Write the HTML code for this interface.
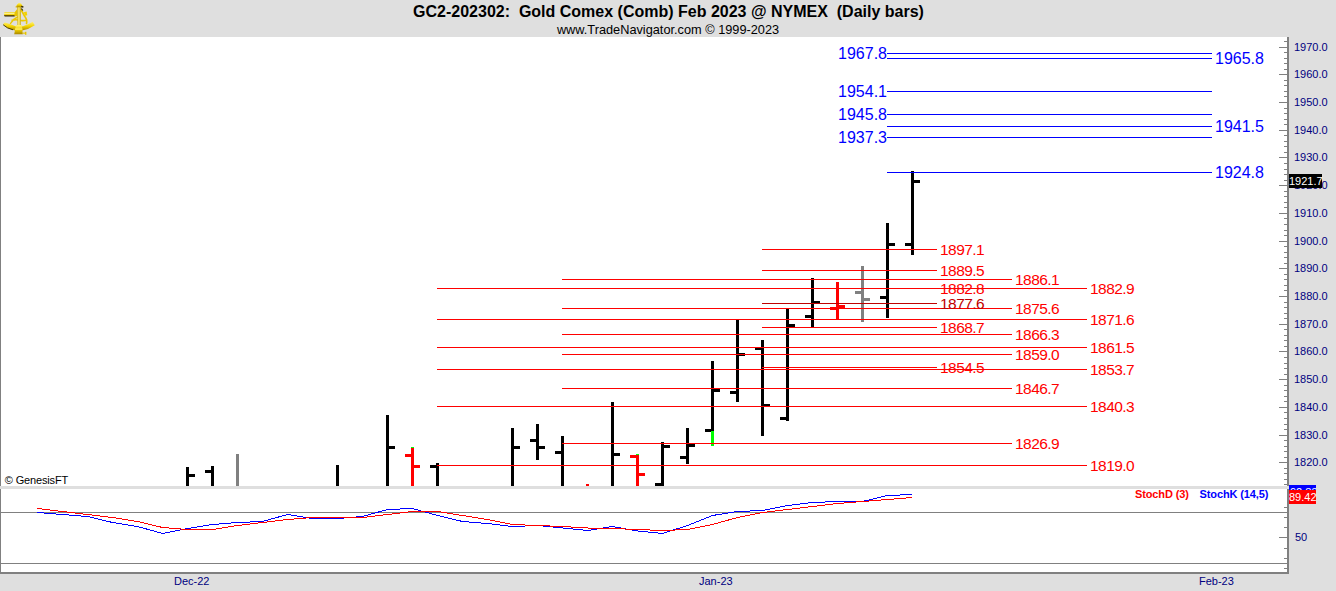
<!DOCTYPE html>
<html><head><meta charset="utf-8"><title>GC2-202302 Gold Comex</title>
<style>
html,body{margin:0;padding:0;background:#dfdfdf;overflow:hidden}
svg{display:block}
text{font-family:'Liberation Sans', Arial, sans-serif}
.lv16{font-size:16px}
.lv15{font-size:15.5px;letter-spacing:-0.55px}
.ax{font-size:11px;fill:#000080}
.st{font-size:11px;font-weight:bold;letter-spacing:-0.12px}
.cp{font-size:11px;fill:#000;letter-spacing:-0.15px}
.dt{font-size:11px;fill:#000080}
.ti{font-size:16px;font-weight:bold;fill:#000}
.sub{font-size:12.75px;fill:#000}
</style></head>
<body>
<svg width="1336" height="591" viewBox="0 0 1336 591" shape-rendering="crispEdges">
<rect x="0" y="0" width="1336" height="591" fill="#dfdfdf"/>
<rect x="1" y="37" width="1286" height="449" fill="#fff"/>
<rect x="1" y="489" width="1286" height="83" fill="#fff"/>
<rect x="0" y="37" width="1" height="449" fill="#808080"/>
<rect x="0" y="489" width="1" height="84" fill="#808080"/>
<rect x="0" y="572" width="1289" height="2" fill="#808080"/>
<rect x="1" y="512" width="1286" height="1" fill="#808080"/>
<rect x="1" y="563" width="1286" height="1" fill="#808080"/>
<rect x="186" y="467" width="3" height="19" fill="#000"/>
<rect x="189" y="474" width="6" height="3" fill="#000"/>
<rect x="211" y="466" width="3" height="20" fill="#000"/>
<rect x="205" y="470" width="6" height="3" fill="#000"/>
<rect x="236" y="454" width="3" height="32" fill="#808080"/>
<rect x="336" y="465" width="3" height="21" fill="#000"/>
<rect x="386" y="415" width="3" height="71" fill="#000"/>
<rect x="389" y="446" width="6" height="3" fill="#000"/>
<rect x="411" y="447" width="3" height="39" fill="#ff0000"/>
<rect x="405" y="454" width="6" height="3" fill="#ff0000"/>
<rect x="414" y="465" width="6" height="3" fill="#ff0000"/>
<rect x="436" y="463" width="3" height="23" fill="#000"/>
<rect x="430" y="465" width="6" height="3" fill="#000"/>
<rect x="511" y="428" width="3" height="58" fill="#000"/>
<rect x="514" y="446" width="6" height="3" fill="#000"/>
<rect x="536" y="424" width="3" height="36" fill="#000"/>
<rect x="530" y="439" width="6" height="3" fill="#000"/>
<rect x="539" y="446" width="6" height="3" fill="#000"/>
<rect x="561" y="436" width="3" height="50" fill="#000"/>
<rect x="555" y="451" width="6" height="3" fill="#000"/>
<rect x="586" y="484" width="3" height="2" fill="#ff0000"/>
<rect x="611" y="402" width="3" height="84" fill="#000"/>
<rect x="614" y="453" width="6" height="3" fill="#000"/>
<rect x="636" y="454" width="3" height="32" fill="#ff0000"/>
<rect x="630" y="455" width="6" height="3" fill="#ff0000"/>
<rect x="639" y="473" width="6" height="3" fill="#ff0000"/>
<rect x="661" y="442" width="3" height="44" fill="#000"/>
<rect x="655" y="483" width="6" height="3" fill="#000"/>
<rect x="664" y="445" width="6" height="3" fill="#000"/>
<rect x="686" y="428" width="3" height="36" fill="#000"/>
<rect x="680" y="456" width="6" height="3" fill="#000"/>
<rect x="689" y="444" width="6" height="3" fill="#000"/>
<rect x="711" y="361" width="3" height="85" fill="#000"/>
<rect x="705" y="429" width="6" height="3" fill="#000"/>
<rect x="714" y="389" width="6" height="3" fill="#000"/>
<rect x="736" y="320" width="3" height="82" fill="#000"/>
<rect x="730" y="391" width="6" height="3" fill="#000"/>
<rect x="739" y="353" width="6" height="3" fill="#000"/>
<rect x="761" y="340" width="3" height="96" fill="#000"/>
<rect x="755" y="347" width="6" height="3" fill="#000"/>
<rect x="764" y="404" width="6" height="3" fill="#000"/>
<rect x="786" y="309" width="3" height="112" fill="#000"/>
<rect x="780" y="417" width="6" height="3" fill="#000"/>
<rect x="789" y="324" width="6" height="3" fill="#000"/>
<rect x="811" y="278" width="3" height="49" fill="#000"/>
<rect x="805" y="315" width="6" height="3" fill="#000"/>
<rect x="814" y="301" width="6" height="3" fill="#000"/>
<rect x="836" y="282" width="3" height="37" fill="#ff0000"/>
<rect x="830" y="307" width="6" height="3" fill="#ff0000"/>
<rect x="839" y="305" width="6" height="3" fill="#ff0000"/>
<rect x="861" y="266" width="3" height="56" fill="#808080"/>
<rect x="855" y="291" width="6" height="3" fill="#808080"/>
<rect x="864" y="298" width="6" height="3" fill="#808080"/>
<rect x="886" y="223" width="3" height="95" fill="#000"/>
<rect x="880" y="296" width="6" height="3" fill="#000"/>
<rect x="889" y="243" width="6" height="3" fill="#000"/>
<rect x="911" y="171" width="3" height="84" fill="#000"/>
<rect x="905" y="243" width="6" height="3" fill="#000"/>
<rect x="914" y="180" width="6" height="3" fill="#000"/>
<rect x="411" y="447" width="3" height="1" fill="#00ff00"/>
<rect x="636" y="454" width="3" height="1" fill="#00ff00"/>
<rect x="711" y="431" width="3" height="15" fill="#00ff00"/>
<rect x="887" y="53" width="325" height="1" fill="#0000ff"/>
<rect x="887" y="58" width="325" height="1" fill="#0000ff"/>
<rect x="887" y="91" width="325" height="1" fill="#0000ff"/>
<rect x="887" y="114" width="325" height="1" fill="#0000ff"/>
<rect x="887" y="126" width="325" height="1" fill="#0000ff"/>
<rect x="887" y="137" width="325" height="1" fill="#0000ff"/>
<rect x="887" y="172" width="325" height="1" fill="#0000ff"/>
<rect x="762" y="249" width="175" height="1" fill="#ff0000"/>
<rect x="762" y="270" width="175" height="1" fill="#ff0000"/>
<rect x="762" y="288" width="175" height="1" fill="#ff0000"/>
<rect x="762" y="303" width="175" height="1" fill="#c00000"/>
<rect x="762" y="327" width="175" height="1" fill="#ff0000"/>
<rect x="762" y="367" width="175" height="1" fill="#ff0000"/>
<rect x="562" y="279" width="450" height="1" fill="#ff0000"/>
<rect x="562" y="308" width="450" height="1" fill="#ff0000"/>
<rect x="562" y="334" width="450" height="1" fill="#ff0000"/>
<rect x="562" y="354" width="450" height="1" fill="#ff0000"/>
<rect x="562" y="388" width="450" height="1" fill="#ff0000"/>
<rect x="562" y="443" width="450" height="1" fill="#ff0000"/>
<rect x="437" y="288" width="650" height="1" fill="#ff0000"/>
<rect x="437" y="319" width="650" height="1" fill="#ff0000"/>
<rect x="437" y="347" width="650" height="1" fill="#ff0000"/>
<rect x="437" y="369" width="650" height="1" fill="#ff0000"/>
<rect x="437" y="406" width="650" height="1" fill="#ff0000"/>
<rect x="437" y="465" width="650" height="1" fill="#ff0000"/>
<text x="887" y="59" font-size="16" fill="#0000ff" text-anchor="end" class="lv16">1967.8</text>
<text x="1215" y="64" font-size="16" fill="#0000ff" class="lv16">1965.8</text>
<text x="887" y="97" font-size="16" fill="#0000ff" text-anchor="end" class="lv16">1954.1</text>
<text x="887" y="120" font-size="16" fill="#0000ff" text-anchor="end" class="lv16">1945.8</text>
<text x="1215" y="132" font-size="16" fill="#0000ff" class="lv16">1941.5</text>
<text x="887" y="143" font-size="16" fill="#0000ff" text-anchor="end" class="lv16">1937.3</text>
<text x="1215" y="178" font-size="16" fill="#0000ff" class="lv16">1924.8</text>
<text x="940" y="254.5" font-size="15" fill="#ff0000" class="lv15">1897.1</text>
<text x="940" y="275.5" font-size="15" fill="#ff0000" class="lv15">1889.5</text>
<text x="940" y="293.5" font-size="15" fill="#ff0000" class="lv15">1882.8</text>
<text x="940" y="308.5" font-size="15" fill="#c00000" class="lv15">1877.6</text>
<text x="940" y="332.5" font-size="15" fill="#ff0000" class="lv15">1868.7</text>
<text x="940" y="372.5" font-size="15" fill="#ff0000" class="lv15">1854.5</text>
<text x="1015" y="284.5" font-size="15" fill="#ff0000" class="lv15">1886.1</text>
<text x="1015" y="313.5" font-size="15" fill="#ff0000" class="lv15">1875.6</text>
<text x="1015" y="339.5" font-size="15" fill="#ff0000" class="lv15">1866.3</text>
<text x="1015" y="359.5" font-size="15" fill="#ff0000" class="lv15">1859.0</text>
<text x="1015" y="393.5" font-size="15" fill="#ff0000" class="lv15">1846.7</text>
<text x="1015" y="448.5" font-size="15" fill="#ff0000" class="lv15">1826.9</text>
<text x="1090" y="293.5" font-size="15" fill="#ff0000" class="lv15">1882.9</text>
<text x="1090" y="324.5" font-size="15" fill="#ff0000" class="lv15">1871.6</text>
<text x="1090" y="352.5" font-size="15" fill="#ff0000" class="lv15">1861.5</text>
<text x="1090" y="374.5" font-size="15" fill="#ff0000" class="lv15">1853.7</text>
<text x="1090" y="411.5" font-size="15" fill="#ff0000" class="lv15">1840.3</text>
<text x="1090" y="470.5" font-size="15" fill="#ff0000" class="lv15">1819.0</text>
<rect x="1287" y="37" width="2" height="537" fill="#808080"/>
<rect x="1284" y="41" width="3" height="1" fill="#808080"/>
<rect x="1279" y="47" width="8" height="1" fill="#808080"/>
<rect x="1284" y="52" width="3" height="1" fill="#808080"/>
<rect x="1284" y="58" width="3" height="1" fill="#808080"/>
<rect x="1284" y="63" width="3" height="1" fill="#808080"/>
<rect x="1284" y="69" width="3" height="1" fill="#808080"/>
<rect x="1279" y="74" width="8" height="1" fill="#808080"/>
<rect x="1284" y="80" width="3" height="1" fill="#808080"/>
<rect x="1284" y="85" width="3" height="1" fill="#808080"/>
<rect x="1284" y="91" width="3" height="1" fill="#808080"/>
<rect x="1284" y="96" width="3" height="1" fill="#808080"/>
<rect x="1279" y="102" width="8" height="1" fill="#808080"/>
<rect x="1284" y="108" width="3" height="1" fill="#808080"/>
<rect x="1284" y="113" width="3" height="1" fill="#808080"/>
<rect x="1284" y="119" width="3" height="1" fill="#808080"/>
<rect x="1284" y="124" width="3" height="1" fill="#808080"/>
<rect x="1279" y="130" width="8" height="1" fill="#808080"/>
<rect x="1284" y="135" width="3" height="1" fill="#808080"/>
<rect x="1284" y="141" width="3" height="1" fill="#808080"/>
<rect x="1284" y="146" width="3" height="1" fill="#808080"/>
<rect x="1284" y="152" width="3" height="1" fill="#808080"/>
<rect x="1279" y="157" width="8" height="1" fill="#808080"/>
<rect x="1284" y="163" width="3" height="1" fill="#808080"/>
<rect x="1284" y="169" width="3" height="1" fill="#808080"/>
<rect x="1284" y="174" width="3" height="1" fill="#808080"/>
<rect x="1284" y="180" width="3" height="1" fill="#808080"/>
<rect x="1279" y="185" width="8" height="1" fill="#808080"/>
<rect x="1284" y="191" width="3" height="1" fill="#808080"/>
<rect x="1284" y="196" width="3" height="1" fill="#808080"/>
<rect x="1284" y="202" width="3" height="1" fill="#808080"/>
<rect x="1284" y="207" width="3" height="1" fill="#808080"/>
<rect x="1279" y="213" width="8" height="1" fill="#808080"/>
<rect x="1284" y="218" width="3" height="1" fill="#808080"/>
<rect x="1284" y="224" width="3" height="1" fill="#808080"/>
<rect x="1284" y="230" width="3" height="1" fill="#808080"/>
<rect x="1284" y="235" width="3" height="1" fill="#808080"/>
<rect x="1279" y="241" width="8" height="1" fill="#808080"/>
<rect x="1284" y="246" width="3" height="1" fill="#808080"/>
<rect x="1284" y="252" width="3" height="1" fill="#808080"/>
<rect x="1284" y="257" width="3" height="1" fill="#808080"/>
<rect x="1284" y="263" width="3" height="1" fill="#808080"/>
<rect x="1279" y="268" width="8" height="1" fill="#808080"/>
<rect x="1284" y="274" width="3" height="1" fill="#808080"/>
<rect x="1284" y="279" width="3" height="1" fill="#808080"/>
<rect x="1284" y="285" width="3" height="1" fill="#808080"/>
<rect x="1284" y="290" width="3" height="1" fill="#808080"/>
<rect x="1279" y="296" width="8" height="1" fill="#808080"/>
<rect x="1284" y="302" width="3" height="1" fill="#808080"/>
<rect x="1284" y="307" width="3" height="1" fill="#808080"/>
<rect x="1284" y="313" width="3" height="1" fill="#808080"/>
<rect x="1284" y="318" width="3" height="1" fill="#808080"/>
<rect x="1279" y="324" width="8" height="1" fill="#808080"/>
<rect x="1284" y="329" width="3" height="1" fill="#808080"/>
<rect x="1284" y="335" width="3" height="1" fill="#808080"/>
<rect x="1284" y="340" width="3" height="1" fill="#808080"/>
<rect x="1284" y="346" width="3" height="1" fill="#808080"/>
<rect x="1279" y="351" width="8" height="1" fill="#808080"/>
<rect x="1284" y="357" width="3" height="1" fill="#808080"/>
<rect x="1284" y="363" width="3" height="1" fill="#808080"/>
<rect x="1284" y="368" width="3" height="1" fill="#808080"/>
<rect x="1284" y="374" width="3" height="1" fill="#808080"/>
<rect x="1279" y="379" width="8" height="1" fill="#808080"/>
<rect x="1284" y="385" width="3" height="1" fill="#808080"/>
<rect x="1284" y="390" width="3" height="1" fill="#808080"/>
<rect x="1284" y="396" width="3" height="1" fill="#808080"/>
<rect x="1284" y="401" width="3" height="1" fill="#808080"/>
<rect x="1279" y="407" width="8" height="1" fill="#808080"/>
<rect x="1284" y="412" width="3" height="1" fill="#808080"/>
<rect x="1284" y="418" width="3" height="1" fill="#808080"/>
<rect x="1284" y="424" width="3" height="1" fill="#808080"/>
<rect x="1284" y="429" width="3" height="1" fill="#808080"/>
<rect x="1279" y="435" width="8" height="1" fill="#808080"/>
<rect x="1284" y="440" width="3" height="1" fill="#808080"/>
<rect x="1284" y="446" width="3" height="1" fill="#808080"/>
<rect x="1284" y="451" width="3" height="1" fill="#808080"/>
<rect x="1284" y="457" width="3" height="1" fill="#808080"/>
<rect x="1279" y="462" width="8" height="1" fill="#808080"/>
<rect x="1284" y="468" width="3" height="1" fill="#808080"/>
<rect x="1284" y="473" width="3" height="1" fill="#808080"/>
<rect x="1284" y="479" width="3" height="1" fill="#808080"/>
<rect x="1284" y="484" width="3" height="1" fill="#808080"/>
<text x="1294" y="51" class="ax">1970.0</text>
<text x="1294" y="78" class="ax">1960.0</text>
<text x="1294" y="106" class="ax">1950.0</text>
<text x="1294" y="134" class="ax">1940.0</text>
<text x="1294" y="161" class="ax">1930.0</text>
<text x="1294" y="189" class="ax">1920.0</text>
<text x="1294" y="217" class="ax">1910.0</text>
<text x="1294" y="245" class="ax">1900.0</text>
<text x="1294" y="272" class="ax">1890.0</text>
<text x="1294" y="300" class="ax">1880.0</text>
<text x="1294" y="328" class="ax">1870.0</text>
<text x="1294" y="355" class="ax">1860.0</text>
<text x="1294" y="383" class="ax">1850.0</text>
<text x="1294" y="411" class="ax">1840.0</text>
<text x="1294" y="439" class="ax">1830.0</text>
<text x="1294" y="466" class="ax">1820.0</text>
<rect x="1284" y="507" width="3" height="1" fill="#808080"/>
<rect x="1284" y="517" width="3" height="1" fill="#808080"/>
<rect x="1284" y="527" width="3" height="1" fill="#808080"/>
<rect x="1284" y="548" width="3" height="1" fill="#808080"/>
<rect x="1284" y="558" width="3" height="1" fill="#808080"/>
<rect x="1284" y="568" width="3" height="1" fill="#808080"/>
<rect x="1279" y="537" width="8" height="1" fill="#808080"/>
<text x="1295" y="541" class="ax">50</text>
<rect x="0" y="486" width="1289" height="3" fill="#dfdfdf"/>
<path d="M1289 486 L1290 487.5 L1289 489 Z" fill="#dfdfdf"/>
<rect x="1289" y="174" width="33" height="14" fill="#000"/>
<text x="1289" y="185" class="ax" fill="#fff" style="fill:#fff">1921.7</text>
<svg x="1289" y="485" width="27" height="5"><rect width="27" height="5" fill="#0000ff"/><text x="1" y="11" class="ax" style="fill:#fff">92.83</text></svg>
<rect x="1289" y="490" width="27" height="14" fill="#ff0000"/>
<text x="1289" y="501" class="ax" style="fill:#fff">89.42</text>
<polyline points="37.5,512.5 62.5,514.5 87.5,516.5 112.5,522.5 137.5,526.5 162.5,533.5 187.5,528.5 212.5,524.5 237.5,522.5 262.5,521.5 287.5,514.5 312.5,518.5 337.5,518.5 362.5,516.5 387.5,509.5 412.5,508.5 437.5,515.5 462.5,521.5 487.5,523.5 512.5,526.5 537.5,525.5 562.5,528.0 587.5,530.5 612.5,526.5 637.5,531.0 662.5,533.5 687.5,525.5 712.5,515.5 737.5,511.5 762.5,510.5 787.5,505.5 812.5,502.5 837.5,501.5 862.5,501.5 887.5,495.5 912.5,494.5" fill="none" stroke="#0000ff" stroke-width="1" shape-rendering="crispEdges"/>
<polyline points="37.5,508.5 62.5,511.5 87.5,514.5 112.5,517.5 137.5,521.5 162.5,527.5 187.5,529.5 212.5,529.5 237.5,525.5 262.5,522.5 287.5,519.5 312.5,517.5 337.5,517.5 362.5,517.5 387.5,514.5 412.5,511.5 437.5,511.5 462.5,515.5 487.5,519.5 512.5,524.5 537.5,525.5 562.5,526.5 587.5,528.0 612.5,528.5 637.5,529.5 662.5,530.5 687.5,529.5 712.5,524.5 737.5,517.5 762.5,512.5 787.5,509.5 812.5,506.5 837.5,503.5 862.5,501.5 887.5,499.5 912.5,497.5" fill="none" stroke="#ff0000" stroke-width="1" shape-rendering="crispEdges"/>
<text x="1135" y="498" class="st" fill="#ff0000">StochD (3)</text>
<text x="1199.6" y="498" class="st" fill="#0000ff">StochK (14,5)</text>
<text x="4.8" y="484" class="cp">© GenesisFT</text>
<text x="174" y="585" class="dt">Dec-22</text>
<text x="699" y="585" class="dt">Jan-23</text>
<text x="1199" y="585" class="dt">Feb-23</text>
<text x="668.5" y="17" class="ti" text-anchor="middle" xml:space="preserve">GC2-202302:  Gold Comex (Comb) Feb 2023 @ NYMEX  (Daily bars)</text>
<text x="668" y="34" class="sub" text-anchor="middle">www.TradeNavigator.com © 1999-2023</text>

<g shape-rendering="geometricPrecision">
 <defs>
  <linearGradient id="gv" x1="0" y1="0" x2="0" y2="1">
   <stop offset="0" stop-color="#fff27a"/>
   <stop offset="0.5" stop-color="#f4d400"/>
   <stop offset="1" stop-color="#a88600"/>
  </linearGradient>
  <linearGradient id="gt" x1="0" y1="0" x2="0" y2="1">
   <stop offset="0" stop-color="#e8c800"/>
   <stop offset="0.3" stop-color="#fff5a0"/>
   <stop offset="0.6" stop-color="#f0d000"/>
   <stop offset="0.75" stop-color="#6a5200"/>
   <stop offset="1" stop-color="#2a2000"/>
  </linearGradient>
  <linearGradient id="gh" x1="0" y1="0" x2="1" y2="0">
   <stop offset="0" stop-color="#d0ac00"/>
   <stop offset="0.45" stop-color="#fff07a"/>
   <stop offset="1" stop-color="#c8a400"/>
  </linearGradient>
 </defs>
 <!-- frame loops -->
 <path d="M17.5 17 Q13 19 10.5 23.5 M12 20.2 Q16 19.5 18 20" stroke="#ecc800" stroke-width="1.4" fill="none" stroke-linecap="round"/>
 <path d="M21 9.5 L24.5 16 Q27.5 20 26.5 23.5 M21 20.5 Q24 21 26.8 20" stroke="#ecc800" stroke-width="1.6" fill="none" stroke-linecap="round"/>
 <path d="M21.4 8.5 L22.8 10.5" stroke="#3a2e00" stroke-width="1.2"/>
 <path d="M23.8 12.2 L26.6 11.6 L27.3 15.2 L25 15.8 Z" fill="#f2d200"/>
 <!-- arc -->
 <path d="M3.1 24.6 Q4 22.6 5 22.6 Q11 24.5 15.5 26.2 L23 26.2 Q28.5 24.5 32.6 21.8 L34.8 25.2 Q28.5 29.5 22 30.6 L15.5 30.6 Q8 29.5 3.1 24.6 Z" fill="url(#gv)"/>
 <path d="M3.2 24.8 Q7 28.5 13 29.8" stroke="#3a2e00" stroke-width="0.9" fill="none"/>
 <!-- telescope -->
 <rect x="4.1" y="11.9" width="11" height="4.7" rx="1" fill="url(#gt)"/>
 <path d="M14.5 12.4 Q16.2 10.5 17.2 9 L17.6 15.8 L14.5 16.5 Z" fill="#e8c400"/>
 <!-- arm -->
 <path d="M17.2 7 L20.9 7 L20.8 25.5 L17.4 25.5 Z" fill="url(#gh)"/>
 <!-- top knob -->
 <path d="M16 7.2 Q16.5 4.5 18.2 3.2 Q19.5 2.4 20.8 3.4 Q22.6 4.8 23 7.2 Z" fill="url(#gv)"/>
 <path d="M15.6 6.2 L16.5 6.2 L16.5 7.6 L15.6 7.6 Z" fill="#e8c400"/>
 <path d="M21.2 5.8 L23.6 6.4 L23.4 7.6 L21.4 7.4 Z" fill="#2a2000"/>
 <!-- base -->
 <path d="M16 25 L21.8 25 L22.8 34.2 L14.2 34.2 Z" fill="url(#gv)"/>
 <rect x="14.8" y="28.4" width="7.6" height="1.4" fill="#fff27a" opacity="0.8"/>
 <rect x="22.4" y="32.6" width="3" height="1.1" fill="#e6c400"/>
 <rect x="25" y="31.8" width="1.4" height="3" fill="#e6c400"/>
</g>
</svg>
</body></html>
